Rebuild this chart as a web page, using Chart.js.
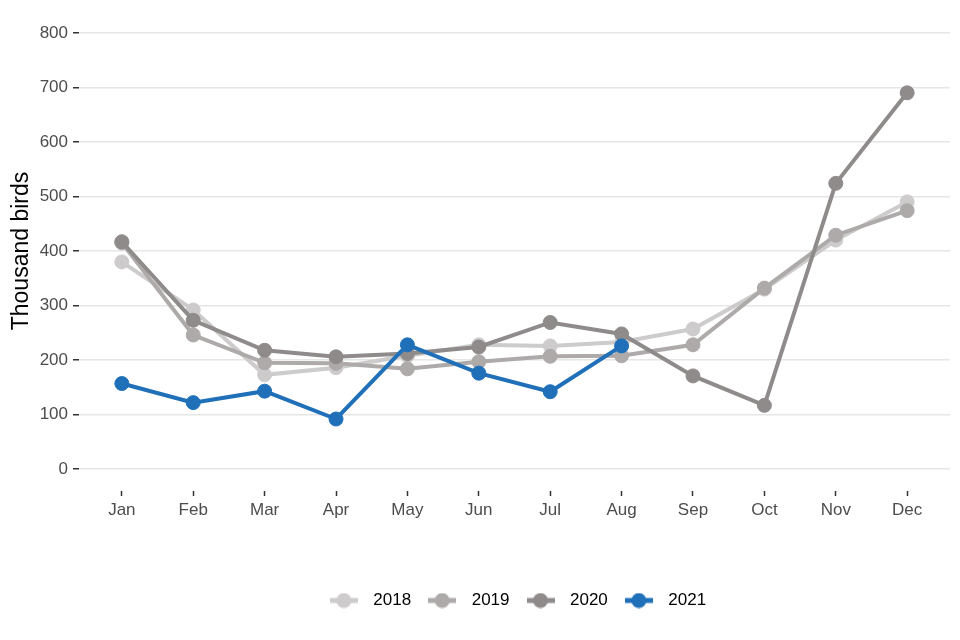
<!DOCTYPE html>
<html>
<head>
<meta charset="utf-8">
<script src="https://cdn.jsdelivr.net/npm/chart.js@4"></script>
<style>
  html, body { margin: 0; padding: 0; background: #fff; }
  #wrap { width: 960px; height: 640px; }
</style>
</head>
<body>
<div id="wrap"><canvas id="birdsChart" width="960" height="640"></canvas></div>
<script>
const months = ['Jan', 'Feb', 'Mar', 'Apr', 'May', 'Jun', 'Jul', 'Aug', 'Sep', 'Oct', 'Nov', 'Dec'];
const years = ['2018', '2019', '2020', '2021'];
const birds2018 = [380, 292, 173, 186, 208, 228, 226, 233, 257, 330, 420, 490];
const birds2019 = [415, 246, 195, 194, 184, 197, 207, 208, 228, 332, 429, 474];
const birds2020 = [417, 273, 218, 206, 212, 224, 269, 248, 171, 117, 524, 690];
const birds2021 = [157, 122, 143, 92, 228, 176, 142, 226];
const yTicks = [0, 100, 200, 300, 400, 500, 600, 700, 800];
const colours = ['#cdcbcb', '#aeaaaa', '#8f8b8b', '#1f70b8'];

const series = [birds2018, birds2019, birds2020, birds2021];

// legend marker: short thick line with a dot, like the reference key
function makeKey(colour) {
    const c = document.createElement('canvas');
    c.width = 28;
    c.height = 16;
    const g = c.getContext('2d');
    g.strokeStyle = colour;
    g.lineWidth = 5;
    g.beginPath();
    g.moveTo(0, 8);
    g.lineTo(28, 8);
    g.stroke();
    g.fillStyle = colour;
    g.beginPath();
    g.arc(14, 8, 7.5, 0, Math.PI * 2);
    g.fill();
    return c;
}

const datasets = series.map((vals, i) => ({
    label: years[i],
    data: vals.map((v, j) => ({ x: j + 1, y: v })),
    borderColor: colours[i],
    backgroundColor: colours[i],
    pointBackgroundColor: colours[i],
    pointBorderColor: colours[i],
    borderWidth: 4,
    pointRadius: 7,
    pointBorderWidth: 1,
    tension: 0,
    order: series.length - i,
    keyImage: makeKey(colours[i])
}));

const ctx = document.getElementById('birdsChart').getContext('2d');
new Chart(ctx, {
    type: 'line',
    data: { datasets: datasets },
    options: {
        responsive: false,
        animation: false,
        layout: { padding: { top: 11, right: 10, bottom: 21, left: 0 } },
        scales: {
            x: {
                type: 'linear',
                min: 0.4,
                max: 12.6,
                afterBuildTicks: axis => { axis.ticks = months.map((m, i) => ({ value: i + 1 })); },
                afterFit: scale => {
                    scale.height = 91;
                    scale.paddingLeft = 0;
                    scale.paddingRight = 0;
                },
                border: { display: false },
                grid: {
                    drawOnChartArea: false,
                    drawTicks: true,
                    tickLength: 5,
                    tickColor: '#333333',
                    tickWidth: 1.5
                },
                ticks: {
                    callback: v => months[v - 1],
                    color: '#4d4d4d',
                    font: { family: 'Liberation Sans', size: 17 },
                    padding: 4,
                    maxRotation: 0,
                    autoSkip: false
                }
            },
            y: {
                min: -40,
                max: 840,
                afterBuildTicks: axis => { axis.ticks = yTicks.map(v => ({ value: v })); },
                afterFit: scale => {
                    scale.width = 79;
                    scale.paddingTop = 0;
                    scale.paddingBottom = 0;
                },
                border: { display: false },
                grid: {
                    color: '#e6e6e6',
                    lineWidth: 1.5,
                    drawTicks: true,
                    tickLength: 6,
                    tickColor: '#333333',
                    tickWidth: 1.5
                },
                ticks: {
                    color: '#4d4d4d',
                    font: { family: 'Liberation Sans', size: 17 },
                    padding: 5
                },
                title: {
                    display: true,
                    text: 'Thousand birds',
                    color: '#000000',
                    font: { family: 'Liberation Sans', size: 23 },
                    padding: { top: 8, bottom: 0 }
                }
            }
        },
        plugins: {
            tooltip: { enabled: false },
            legend: {
                position: 'bottom',
                fullSize: false,
                labels: {
                    usePointStyle: true,
                    pointStyleWidth: 42,
                    padding: 10,
                    color: '#000000',
                    font: { family: 'Liberation Sans', size: 17 },
                    generateLabels: chart => chart.data.datasets.map((ds, i) => ({
                        text: ds.label,
                        datasetIndex: i,
                        pointStyle: ds.keyImage,
                        fillStyle: ds.borderColor,
                        strokeStyle: ds.borderColor,
                        lineWidth: 0,
                        fontColor: '#000000',
                        hidden: false
                    }))
                }
            }
        }
    }
});
</script>
</body>
</html>
